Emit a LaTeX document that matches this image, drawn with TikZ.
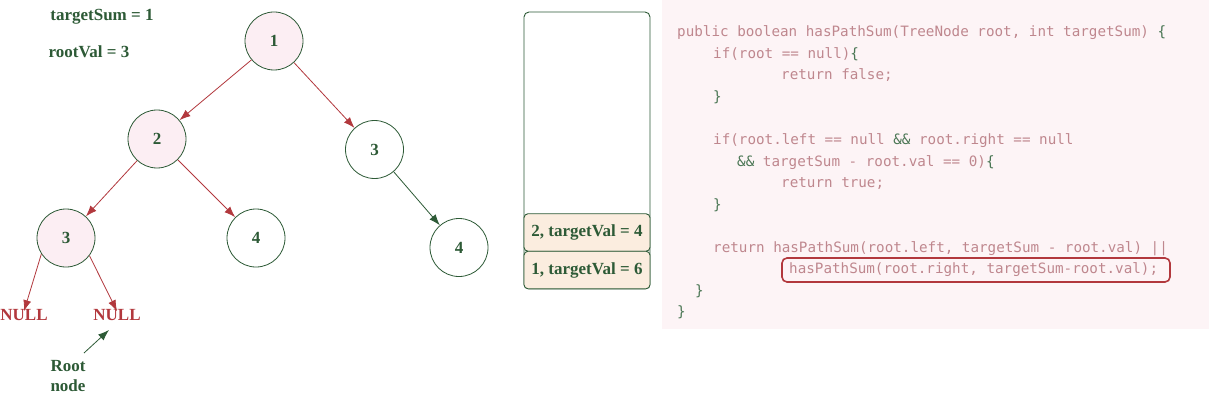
\documentclass[tikz,border=0pt]{standalone}
\usepackage{fontspec}
\setmainfont{Liberation Serif}
\newfontfamily\codefont{DejaVu Sans Mono}
\usetikzlibrary{arrows.meta}
\definecolor{dgreen}{HTML}{2D5A36}
\definecolor{dred}{HTML}{B2383D}
\definecolor{pinkfill}{HTML}{FCEEF3}
\definecolor{beige}{HTML}{FBEDDF}
\definecolor{coderose}{HTML}{BF878E}
\definecolor{codegreen}{HTML}{4A7654}
\definecolor{panel}{HTML}{FDF4F6}
\newcommand\gr[1]{\textcolor{codegreen}{#1}}
\tikzset{
  lbl/.style={font=\fontsize{17}{20}\selectfont\bfseries, text=dgreen, inner sep=0pt},
  nulllbl/.style={font=\fontsize{17}{20}\selectfont\bfseries, text=dred, inner sep=0pt},
  tnode/.style={circle, draw=dgreen, line width=0.8pt, minimum size=58pt, inner sep=0pt,
    font=\fontsize{17}{20}\selectfont\bfseries, text=dgreen},
  visited/.style={tnode, fill=pinkfill},
  fresh/.style={tnode, fill=white},
  redarrow/.style={draw=dred, line width=0.8pt, -{Latex[length=11pt,width=8pt]}},
  greenarrow/.style={draw=dgreen, line width=0.8pt, -{Latex[length=11pt,width=8pt]}},
  stackframe/.style={draw=dgreen, line width=0.9pt, fill=beige, rounded corners=4pt,
    minimum width=126pt, minimum height=37.5pt, inner sep=0pt,
    font=\fontsize{17}{20}\selectfont\bfseries, text=dgreen},
  codeline/.style={anchor=base west, inner sep=0pt, font=\codefont\fontsize{14.25}{17}\selectfont, text=coderose},
}
\begin{document}
\begin{tikzpicture}[x=1pt,y=-1pt]
\useasboundingbox (0,0) rectangle (1209,401);
\fill[white] (0,0) rectangle (1209,401);

% labels
\node[lbl] (ts) at (102,17) {targetSum = 1};
\node[lbl] (rv) at (89,52) {rootVal = 3};

% tree
\node[visited] (n1) at (274,41) {1};
\node[visited] (n2) at (157,139) {2};
\node[fresh] (n3r) at (374.5,149.5) {3};
\node[visited] (n3l) at (66,238) {3};
\node[fresh] (n4m) at (256,238) {4};
\node[fresh] (n4r) at (459,247.5) {4};
\node[nulllbl] (nullL) at (24,315) {NULL};
\node[nulllbl] (nullR) at (117,315) {NULL};
\node[lbl, align=center, font=\fontsize{17}{20}\selectfont\bfseries] (rootlbl) at (68,376) {Root\\node};

\draw[redarrow] (n1) -- (n2);
\draw[redarrow] (n1) -- (n3r);
\draw[redarrow] (n2) -- (n3l);
\draw[redarrow] (n2) -- (n4m);
\draw[greenarrow] (n3r) -- (n4r);
\draw[redarrow] (n3l.213) -- ([yshift=-2pt]nullL.north);
\draw[redarrow] (n3l.323) -- ([yshift=-2pt]nullR.north);
\coordinate (rtail) at (84,353);
\coordinate (rtip) at (109,330);
\draw[greenarrow] (rtail) -- (rtip);

% stack
\draw[dgreen, line width=0.9pt, rounded corners=5pt] (524,12) rectangle (650,289);
\node[stackframe] (f2) at (587,232.5) {2, targetVal = 4};
\node[stackframe] (f1) at (587,270) {1, targetVal = 6};

% code panel
\fill[panel] (662,0) rectangle (1209,329);
\node[codeline] (c1) at (677,37) {public boolean hasPathSum(TreeNode root, int targetSum) \gr{\{}};
\node[codeline] (c2) at (713,58.5) {if(root == null)\gr{\{}};
\node[codeline] (c3) at (781,80) {return false;};
\node[codeline] (c4) at (713,101.5) {\gr{\}}};
\node[codeline] (c6) at (713,144.5) {if(root.left == null \gr{\&\&} root.right == null};
\node[codeline] (c7) at (737,166) {\gr{\&\&} targetSum - root.val == 0)\gr{\{}};
\node[codeline] (c8) at (781,187.5) {return true;};
\node[codeline] (c9) at (713,209) {\gr{\}}};
\node[codeline] (c11) at (713,252) {return hasPathSum(root.left, targetSum - root.val) ||};
\node[codeline] (c12) at (789,273.5) {hasPathSum(root.right, targetSum-root.val);};
\node[codeline] (c13) at (695,295) {\gr{\}}};
\node[codeline] (c14) at (677,316.5) {\gr{\}}};
\draw[dred, line width=1.6pt, rounded corners=5pt] (782,258) rectangle (1170,282);
\end{tikzpicture}
\end{document}
